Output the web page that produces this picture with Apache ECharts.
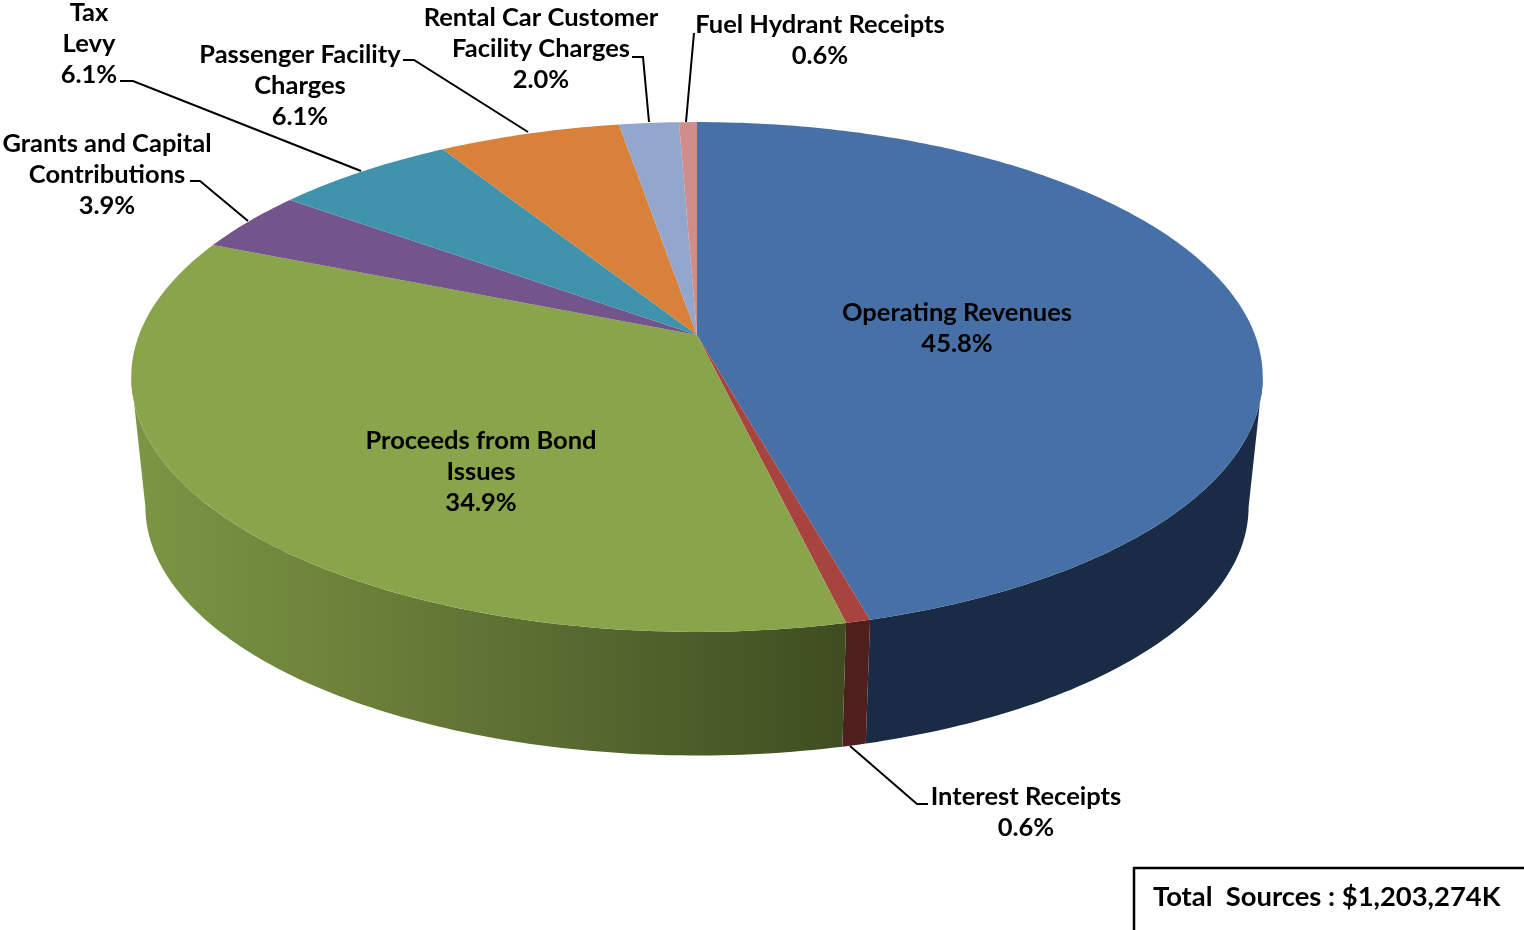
<!DOCTYPE html>
<html>
<head>
<meta charset="utf-8">
<style>
  html, body { margin: 0; padding: 0; background: #fff; }
  #chart { width: 1524px; height: 930px; }
</style>
<script src="https://cdn.jsdelivr.net/npm/echarts@6/dist/echarts.min.js"></script>
</head>
<body>
<div id="chart"></div>
<script>
// clockwise from 12 o'clock
var sourceNames = ["Operating Revenues", "Interest Receipts", "Proceeds from Bond\nIssues", "Grants and Capital\nContributions", "Tax\nLevy", "Passenger Facility\nCharges", "Rental Car Customer\nFacility Charges", "Fuel Hydrant Receipts"];
var sourcePercents = [45.8, 0.6, 34.9, 3.9, 6.1, 6.1, 2.0, 0.6];
var topColors = ["#4670a6", "#a8443f", "#8aa44c", "#73558c", "#3f93ad", "#d8813a", "#92a6ce", "#cf8d8b"];
var sideColors = ["#1a2c45", "#4f1f1e", "#8aa44c", "#73558c", "#3f93ad", "#d8813a", "#92a6ce", "#cf8d8b"];
var totalLabel = "Total  Sources : $1,203,274K";

// label centres and leader lines, in page pixels
var labelCenters = [[957, 328], [1026, 812], [481, 472], [107, 174.5], [89, 43.5], [300, 85.5], [541, 48.5], [820, 40]];
var leaderLines = [
  null,
  [[850, 746], [917, 804], [928, 804]],
  null,
  [[190, 181], [200, 181], [248, 221]],
  [[120, 81], [133, 81], [361, 171]],
  [[403, 60], [414, 60], [528, 132]],
  [[632, 57], [643, 57], [649, 122]],
  [[694, 33], [686, 122]]
];

// perspective disc: front of the pie is nearer to the viewer
var CX = 697, TOP_Y = 335, BOTTOM_Y = 466, RX = 558, RY = 248, BOTTOM_SCALE = 0.975, TILT = 0.1647;

var total = sourcePercents.reduce(function (a, b) { return a + b; }, 0);

// the wall is only visible between the two widest points of the disc
var wallStart = Math.acos(-TILT) / (Math.PI * 2) * total;
var wallEnd = total - wallStart;

function project(pct, faceY, scale) {
  var a = pct / total * Math.PI * 2;
  var u = Math.sin(a), v = -Math.cos(a);
  var w = 1 - TILT * v;
  return [CX + scale * RX * u / w, faceY + scale * RY * v / w];
}

function arcPoints(start, end, faceY, scale) {
  var pts = [];
  var n = Math.max(2, Math.ceil((end - start) * 4));
  for (var i = 0; i <= n; i++) {
    pts.push(project(start + (end - start) * i / n, faceY, scale));
  }
  return pts;
}

function sliceRange(idx) {
  var start = 0;
  for (var i = 0; i < idx; i++) start += sourcePercents[i];
  return [start, start + sourcePercents[idx]];
}

function renderSide(params, api) {
  var r = sliceRange(params.dataIndex);
  var start = Math.max(r[0], wallStart);
  var end = Math.min(r[1], wallEnd);
  if (end <= start) return null;
  var upper = arcPoints(start, end, TOP_Y, 1);
  var lower = arcPoints(start, end, BOTTOM_Y, BOTTOM_SCALE).reverse();
  var fill = sideColors[params.dataIndex];
  if (sourceNames[params.dataIndex].indexOf("Proceeds") === 0) {
    // the lit side of the green wall fades out towards the front
    fill = new echarts.graphic.LinearGradient(131, 0, 843, 0, [
      { offset: 0, color: "#7b9645" },
      { offset: 0.3, color: "#6c8239" },
      { offset: 0.65, color: "#55682f" },
      { offset: 1, color: "#3f4d20" }
    ], true);
  }
  return {
    type: "polygon",
    shape: { points: upper.concat(lower) },
    style: { fill: fill }
  };
}

function renderTop(params, api) {
  var r = sliceRange(params.dataIndex);
  var pts = [[CX, TOP_Y]].concat(arcPoints(r[0], r[1], TOP_Y, 1));
  return {
    type: "polygon",
    shape: { points: pts },
    style: { fill: topColors[params.dataIndex] }
  };
}

var labelFont = { fontFamily: "Lato", fontWeight: 700, fontSize: 25.5, lineHeight: 31, fill: "#000" };
var graphics = [];

sourceNames.forEach(function (name, i) {
  graphics.push({
    type: "text",
    x: labelCenters[i][0],
    y: labelCenters[i][1],
    z: 100,
    silent: true,
    style: Object.assign({
      text: name + "\n" + sourcePercents[i].toFixed(1) + "%",
      align: "center",
      verticalAlign: "middle"
    }, labelFont)
  });
  if (leaderLines[i]) {
    graphics.push({
      type: "polyline",
      z: 100,
      silent: true,
      shape: { points: leaderLines[i] },
      style: { stroke: "#000", lineWidth: 2, fill: null }
    });
  }
});

graphics.push({
  type: "rect",
  z: 100,
  silent: true,
  shape: { x: 1134, y: 868, width: 400, height: 80 },
  style: { fill: "#fff", stroke: "#000", lineWidth: 2.5 }
});
graphics.push({
  type: "text",
  x: 1153,
  y: 897,
  z: 101,
  silent: true,
  style: Object.assign({ text: totalLabel, align: "left", verticalAlign: "middle" }, labelFont, { fontSize: 27.4 })
});

var chart = echarts.init(document.getElementById("chart"));
chart.setOption({
  backgroundColor: "#fff",
  animation: false,
  tooltip: { show: false },
  graphic: graphics,
  series: [
    {
      type: "custom",
      coordinateSystem: "none",
      silent: true,
      z: 1,
      renderItem: renderSide,
      data: sourcePercents
    },
    {
      type: "custom",
      coordinateSystem: "none",
      silent: true,
      z: 2,
      renderItem: renderTop,
      data: sourcePercents
    }
  ]
});
</script>
</body>
</html>
